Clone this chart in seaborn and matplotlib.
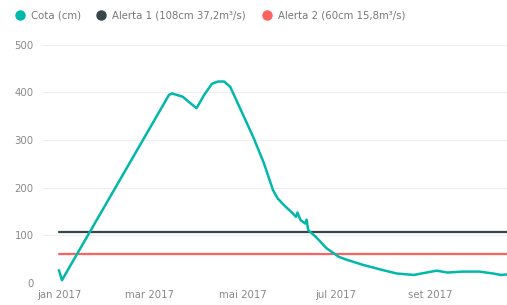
import pandas as pd
import numpy as np
import matplotlib
matplotlib.use("Agg")
import matplotlib.pyplot as plt
from matplotlib.lines import Line2D
import seaborn as sns

# cota readings (cm)
DATES = ["2017-01-01", "2017-01-03", "2017-03-14", "2017-03-16", "2017-03-19",
         "2017-03-23", "2017-03-27", "2017-04-01", "2017-04-06", "2017-04-11",
         "2017-04-15", "2017-04-19", "2017-04-23", "2017-05-02", "2017-05-08",
         "2017-05-15", "2017-05-21", "2017-05-24", "2017-05-28", "2017-06-01",
         "2017-06-03", "2017-06-05", "2017-06-06", "2017-06-08", "2017-06-11",
         "2017-06-12", "2017-06-13", "2017-06-18", "2017-06-25", "2017-07-03",
         "2017-07-09", "2017-07-19", "2017-08-01", "2017-08-10", "2017-08-21",
         "2017-09-05", "2017-09-12", "2017-09-22", "2017-10-03", "2017-10-12",
         "2017-10-17", "2017-10-21"]
COTA = [27, 6, 395, 398, 395,
        391, 380, 367, 395, 418,
        423, 423, 412, 349, 307,
        252, 195, 178, 164, 152,
        146, 139, 148, 132, 125,
        133, 111, 97, 73, 55,
        48, 38, 27, 20, 17,
        26, 22, 24, 24, 20,
        17, 18]
ALERTA_1 = 108
ALERTA_2 = 60
TICK_DATES = ["2017-01-01", "2017-03-01", "2017-05-01", "2017-07-01", "2017-09-01"]
TICK_LABELS = ["jan 2017", "mar 2017", "mai 2017", "jul 2017", "set 2017"]

df = pd.DataFrame({"data": pd.to_datetime(DATES), "cota": COTA})
alert = pd.DataFrame({"data": pd.to_datetime([DATES[0], DATES[-1]])})
alert["a1"] = ALERTA_1
alert["a2"] = ALERTA_2

TEAL = "#01B8AA"
DARK = "#374649"
RED = "#FD625E"

sns.set_style("white")
plt.rcParams["font.family"] = ["DejaVu Sans"]

fig = plt.figure(figsize=(5.07, 3.05), dpi=100)
ax = fig.add_axes([0.083, 0.072, 0.917, 0.781])

sns.lineplot(data=alert, x="data", y="a1", ax=ax, color=DARK, linewidth=1.6)
sns.lineplot(data=alert, x="data", y="a2", ax=ax, color=RED, linewidth=1.6)
sns.lineplot(data=df, x="data", y="cota", ax=ax, color=TEAL, linewidth=1.8)

ax.set_ylim(0, 500)
ax.set_xlim(pd.Timestamp("2016-12-21"), pd.Timestamp("2017-10-21"))
ax.set_yticks([0, 100, 200, 300, 400, 500])
ax.set_xticks(pd.to_datetime(TICK_DATES))
ax.set_xticklabels(TICK_LABELS)
ax.set_xlabel("")
ax.set_ylabel("")
ax.grid(axis="y", color="#eeeeee", linewidth=0.8)
ax.set_axisbelow(True)
for s in ax.spines.values():
    s.set_visible(False)
ax.tick_params(axis="both", length=0, labelsize=7.3, labelcolor="#888888")
ax.tick_params(axis="y", pad=6)
ax.tick_params(axis="x", pad=5)

handles = [
    Line2D([], [], marker="o", linestyle="", color=TEAL, markersize=6.5),
    Line2D([], [], marker="o", linestyle="", color=DARK, markersize=6.5),
    Line2D([], [], marker="o", linestyle="", color=RED, markersize=6.5),
]
labels = ["Cota (cm)", "Alerta 1 (108cm 37,2m³/s)", "Alerta 2 (60cm 15,8m³/s)"]
fig.legend(handles, labels, loc="center left", bbox_to_anchor=(0.005, 0.95),
           ncol=3, frameon=False, fontsize=7.3, handletextpad=0.1,
           columnspacing=1.0, labelcolor="#777777", borderaxespad=0.3)

fig.savefig("out.png", dpi=100)
